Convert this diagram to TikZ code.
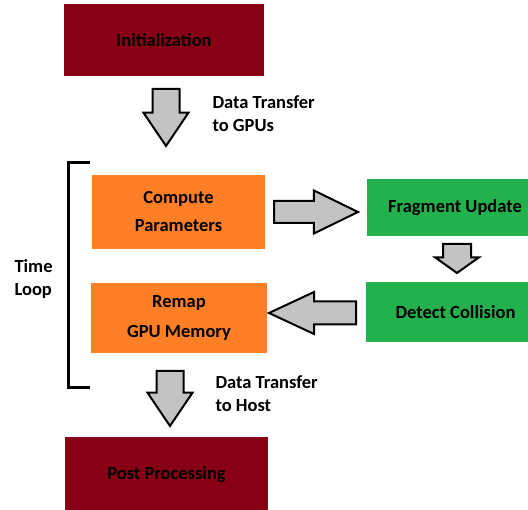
\documentclass[tikz,border=0pt]{standalone}
\usepackage{fontspec}
\setmainfont{Carlito}
\usetikzlibrary{shapes.arrows}

\definecolor{initred}{HTML}{880015}
\definecolor{steporange}{HTML}{FF7F27}
\definecolor{gpugreen}{HTML}{22B14C}
\definecolor{arrowgray}{HTML}{C3C3C3}

\tikzset{
  txt/.style={font=\bfseries\fontsize{18.5}{24}\selectfont},
  rect/.style={txt,rectangle,inner sep=0pt,align=center},
  hostbox/.style={rect,fill=initred},
  stepbox/.style={rect,fill=steporange},
  gpubox/.style={rect,fill=gpugreen},
  bigarrow/.style={
    single arrow,draw=black,fill=arrowgray,
    line width=2pt,inner xsep=0pt,
    single arrow head indent=0pt,anchor=tail
  },
  note/.style={txt,align=left,anchor=west},
}

\begin{document}
\begin{tikzpicture}[x=1pt,y=-1pt]
\useasboundingbox (0,0) rectangle (528,510);

\node[hostbox,minimum width=200pt,minimum height=72pt] (init) at (164,40) {Initialization};
\node[stepbox,minimum width=173pt,minimum height=74pt] (compute) at (178.5,212) {Compute\\[4pt]Parameters};
\node[stepbox,minimum width=176pt,minimum height=70pt] (remap) at (179,318) {Remap\\[6pt]GPU Memory};
\node[gpubox,minimum width=176pt,minimum height=57pt] (fragment) at (455,207.5) {Fragment Update};
\node[gpubox,minimum width=179pt,minimum height=60pt] (collision) at (455.5,312) {Detect Collision};
\node[hostbox,minimum width=203pt,minimum height=76pt] (post) at (166.5,475) {Post Processing};

\node[note] (togpu) at (209,114) {Data Transfer\\[-1pt]to GPUs};
\node[note] (tohost) at (212,394) {Data Transfer\\[-1pt]to Host};
\node[txt,align=left,anchor=west] (loop) at (11,279) {Time\\[-1pt]Loop};

\draw[line width=3pt] (90,163) -- (68,163) -- (68,388) -- (90,388);

\node[bigarrow,rotate=-90,minimum height=57pt,inner ysep=12.5pt,
      single arrow head extend=9pt,single arrow tip angle=68] (down1) at (166,88) {};
\node[bigarrow,minimum height=84pt,inner ysep=10pt,
      single arrow head extend=10.5pt,single arrow tip angle=52] (right1) at (273,212) {};
\node[bigarrow,rotate=-90,minimum height=29pt,inner ysep=13pt,
      single arrow head extend=8pt,single arrow tip angle=109] (down2) at (457,243) {};
\node[bigarrow,rotate=180,minimum height=87pt,inner ysep=10.5pt,
      single arrow head extend=9.5pt,single arrow tip angle=50] (left1) at (357,313) {};
\node[bigarrow,rotate=-90,minimum height=55pt,inner ysep=12.5pt,
      single arrow head extend=9pt,single arrow tip angle=68] (down3) at (170,370) {};
\end{tikzpicture}
\end{document}
